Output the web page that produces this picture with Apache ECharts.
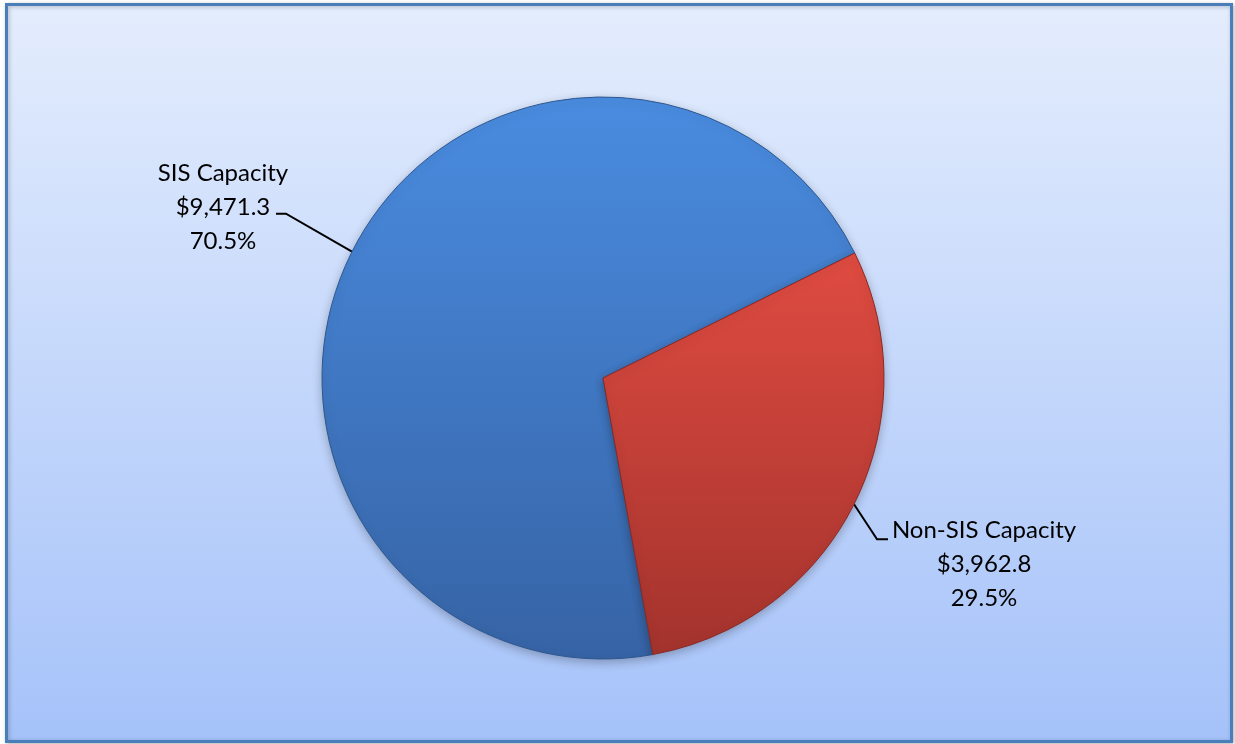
<!DOCTYPE html>
<html>
<head>
<meta charset="utf-8">
<script src="https://cdn.jsdelivr.net/npm/echarts@6/dist/echarts.min.js"></script>
<style>
  html, body { margin: 0; padding: 0; background: #ffffff; }
  #chart { width: 1235px; height: 744px; }
</style>
</head>
<body>
<div id="chart"></div>
<script>
// Capacity split, dollar amounts
const categories = ['SIS Capacity', 'Non-SIS Capacity'];
const amounts = [9471.3, 3962.8];

const sliceColors = [
  { top: '#4a8ce0', bottom: '#3663a5', edge: '#2d5790' },
  { top: '#df4b41', bottom: '#a3332d', edge: '#8a2a25' }
];

// Leader-line shape per slice: elbow offset from the slice edge, tail length,
// which side the text hangs on, text block width and vertical shift.
const guides = [
  { elbow: [-66, -38], tail: -10, anchor: 'right', width: 126, textDy: -6 },
  { elbow: [23, 35], tail: 11, anchor: 'left', width: 192, textDy: 25 }
];

function money(v) {
  return '$' + v.toLocaleString('en-US', { minimumFractionDigits: 1, maximumFractionDigits: 1 });
}

const chart = echarts.init(document.getElementById('chart'), null, { renderer: 'canvas' });

const pieData = categories.map((name, i) => ({
  name: name,
  value: amounts[i],
  itemStyle: {
    color: new echarts.graphic.LinearGradient(0, 0, 0, 1, [
      { offset: 0, color: sliceColors[i].top },
      { offset: 1, color: sliceColors[i].bottom }
    ]),
    borderColor: sliceColors[i].edge,
    borderWidth: 1
  }
}));

const textStyle = {
  fontFamily: 'Lato',
  fontSize: 24,
  color: '#000000',
  lineHeight: 34,
  align: 'center'
};

chart.setOption({
  animation: false,
  graphic: [{
    type: 'rect',
    z: -10,
    shape: { x: 6.5, y: 4.5, width: 1225, height: 737 },
    style: {
      fill: new echarts.graphic.LinearGradient(0, 0, 0, 1, [
        { offset: 0, color: '#e4edfd' },
        { offset: 1, color: '#a5c2f9' }
      ]),
      stroke: '#4a7ebb',
      lineWidth: 3,
      shadowBlur: 4,
      shadowColor: 'rgba(0,0,0,0.25)',
      shadowOffsetX: 1,
      shadowOffsetY: 1
    }
  }],
  series: [{
    type: 'pie',
    center: [603, 378],
    radius: 281,
    startAngle: 280.2,
    clockwise: true,
    data: pieData,
    itemStyle: {
      shadowBlur: 10,
      shadowColor: 'rgba(0,0,0,0.25)',
      shadowOffsetY: 3
    },
    label: {
      show: true,
      position: 'outside',
      formatter: function (p) {
        const s = 't' + p.dataIndex;
        return '{' + s + '|' + p.name + '}\n{' + s + '|' + money(p.value) + '}\n{' + s + '|' + p.percent.toFixed(1) + '%}';
      },
      rich: {
        t0: Object.assign({ width: guides[0].width }, textStyle),
        t1: Object.assign({ width: guides[1].width }, textStyle)
      }
    },
    labelLine: {
      show: true,
      length: 40,
      length2: 10,
      lineStyle: { color: '#000000', width: 2 }
    },
    labelLayout: function (p) {
      const pts = p.labelLinePoints;
      if (!pts) return {};
      const g = guides[p.dataIndex];
      const edge = pts[0];
      const elbow = [edge[0] + g.elbow[0], edge[1] + g.elbow[1]];
      const end = [elbow[0] + g.tail, elbow[1]];
      return {
        x: g.anchor === 'right' ? elbow[0] : end[0],
        y: elbow[1] + g.textDy,
        align: g.anchor,
        verticalAlign: 'middle',
        labelLinePoints: [edge, elbow, end]
      };
    },
    emphasis: { disabled: true }
  }]
});
</script>
</body>
</html>
